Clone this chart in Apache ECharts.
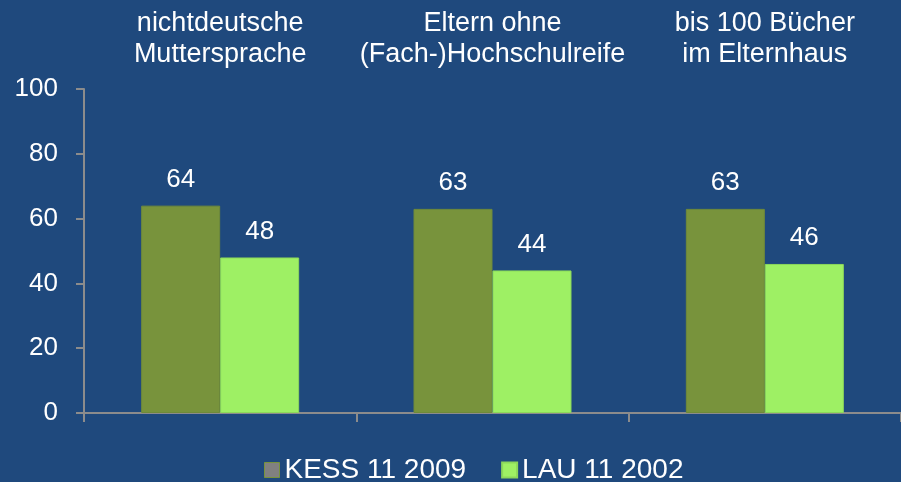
<!DOCTYPE html>
<html>
<head>
<meta charset="utf-8">
<script src="https://cdn.jsdelivr.net/npm/echarts@6/dist/echarts.min.js"></script>
<style>
  html, body { margin: 0; padding: 0; background: #1f497d; }
  #chart { width: 901px; height: 482px; }
</style>
</head>
<body>
<div id="chart"></div>
<script>
// Category headings (shown above the plot)
const categories = [
  'nichtdeutsche\nMuttersprache',
  'Eltern ohne\n(Fach-)Hochschulreife',
  'bis 100 Bücher\nim Elternhaus'
];
// Shares in percent
const kess2009 = [64, 63, 63];
const lau2002 = [48, 44, 46];
const seriesNames = ['KESS 11 2009', 'LAU 11 2002'];
const yTicks = [0, 20, 40, 60, 80, 100];

const font = 'Liberation Sans, Arial, sans-serif';
const axisGray = '#8c8c8c';

const chart = echarts.init(document.getElementById('chart'), null, { renderer: 'canvas' });

const labelStyle = {
  show: true,
  position: 'top',
  distance: 13,
  color: '#ffffff',
  fontSize: 26,
  fontFamily: font
};

chart.setOption({
  backgroundColor: '#1f497d',
  animation: false,
  grid: { left: 84, right: -11, top: 89, bottom: 69 },
  legend: {
    top: 456,
    left: 264,
    padding: 0,
    itemWidth: 15,
    itemHeight: 15,
    itemGap: 35,
    textStyle: { color: '#ffffff', fontSize: 28, fontFamily: font },
    data: [
      { name: seriesNames[0], icon: 'rect', itemStyle: { color: '#808080', borderColor: '#77933c', borderWidth: 1 } },
      { name: seriesNames[1], icon: 'rect', itemStyle: { color: '#9ef064' } }
    ]
  },
  xAxis: [
    {
      type: 'category',
      data: categories,
      position: 'bottom',
      axisLine: { lineStyle: { color: axisGray, width: 2 } },
      axisTick: { show: true, length: 9, lineStyle: { color: axisGray, width: 2 } },
      axisLabel: { show: false }
    },
    {
      type: 'category',
      data: categories,
      position: 'top',
      offset: 11,
      axisLine: { show: false },
      axisTick: { show: false },
      axisLabel: {
        color: '#ffffff',
        fontSize: 27,
        fontFamily: font,
        lineHeight: 31,
        margin: 8,
        interval: 0
      }
    }
  ],
  yAxis: {
    type: 'value',
    min: 0,
    max: 100,
    interval: 20,
    axisLine: { show: true, lineStyle: { color: axisGray, width: 2 } },
    axisTick: { show: true, length: 8, lineStyle: { color: axisGray, width: 2 } },
    splitLine: { show: false },
    axisLabel: {
      color: '#ffffff',
      fontSize: 26,
      fontFamily: font,
      margin: 26,
      customValues: yTicks
    }
  },
  series: [
    {
      name: seriesNames[0],
      type: 'bar',
      data: kess2009,
      barWidth: 79,
      barGap: '0%',
      itemStyle: { color: '#78933c', borderColor: '#6f8a3a', borderWidth: 1 },
      label: labelStyle
    },
    {
      name: seriesNames[1],
      type: 'bar',
      data: lau2002,
      barWidth: 79,
      barGap: '0%',
      itemStyle: { color: '#9ef064', borderColor: '#8cd85a', borderWidth: 1 },
      label: labelStyle
    }
  ]
});
</script>
</body>
</html>
